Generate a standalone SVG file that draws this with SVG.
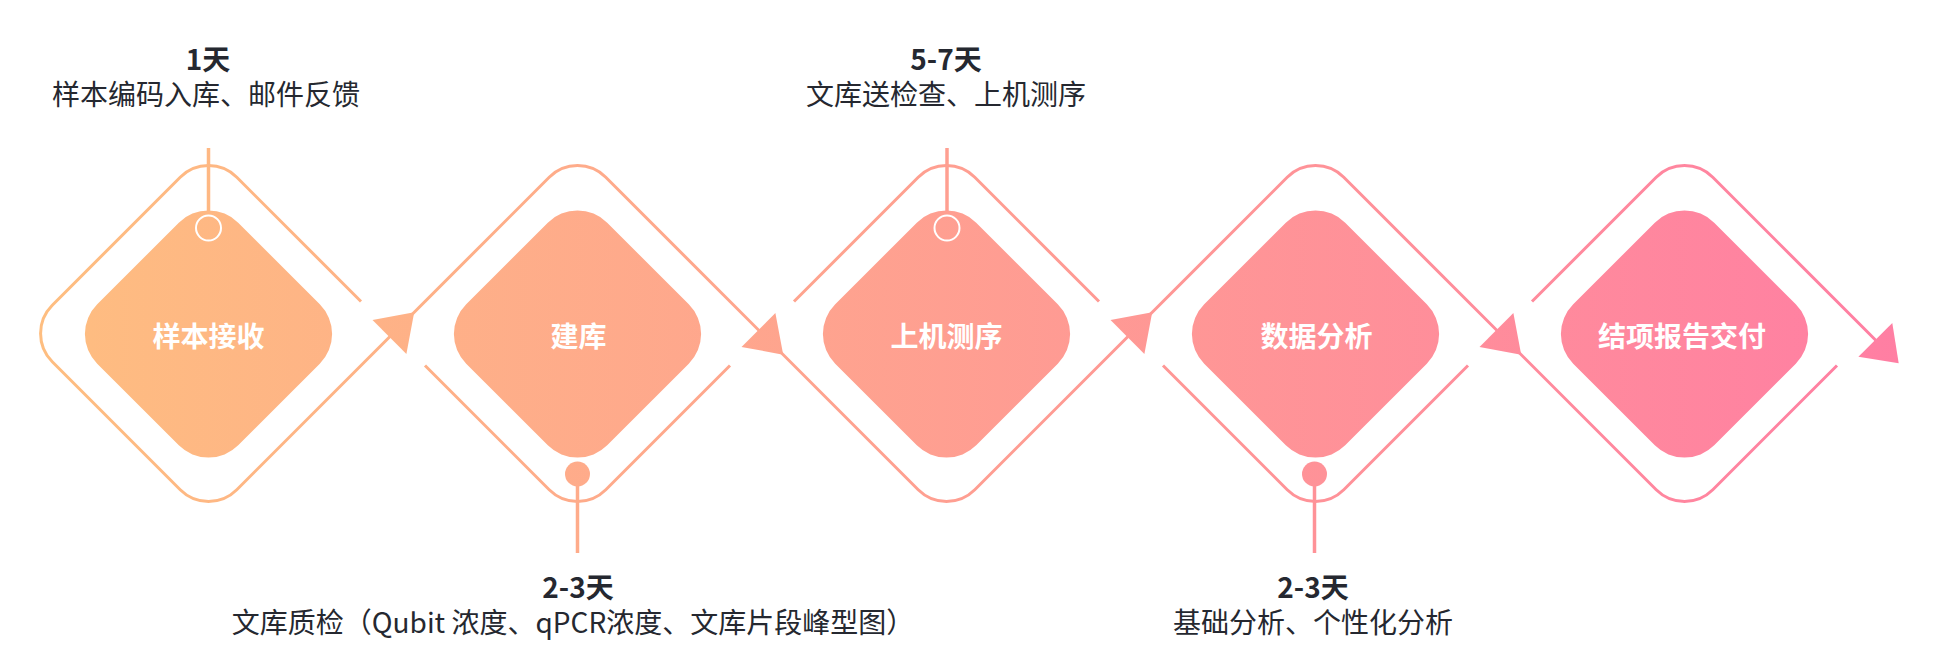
<svg xmlns="http://www.w3.org/2000/svg" width="1936" height="666" viewBox="0 0 1936 666">
<defs>
<linearGradient id="g" gradientUnits="userSpaceOnUse" x1="30" y1="0" x2="1910" y2="0">
<stop offset="0" stop-color="#FEBE80"/>
<stop offset="1" stop-color="#FF7EA3"/>
</linearGradient>
<style>
.outline{fill:none;stroke:url(#g);stroke-width:3;stroke-linejoin:round}
.arrow{fill:url(#g)}
.inner{fill:url(#g)}
.title{font-family:"Noto Sans CJK SC","Noto Sans",sans-serif;font-weight:700;font-size:28px;fill:#fff;text-anchor:middle}
.day{font-family:"Noto Sans CJK SC","Noto Sans",sans-serif;font-weight:700;font-size:28px;fill:#252830;text-anchor:middle}
.desc{font-family:"Noto Sans CJK SC","Noto Sans",sans-serif;font-weight:400;font-size:28px;fill:#252830;text-anchor:middle}
.stem{stroke:url(#g);stroke-width:3.5;fill:none}
.ring{fill:none;stroke:#fff;stroke-width:2}
.dot{fill:url(#g)}
</style>
</defs>
<rect width="1936" height="666" fill="#fff"/>
<g id="connectors">
<path class="outline" d="M361,301.5 L236.78,177.28 A40,40 0 0 0 180.22,177.28 L52.28,305.22 A40,40 0 0 0 52.28,361.78 L180.22,489.72 A40,40 0 0 0 236.78,489.72 L549.22,177.28 A40,40 0 0 1 605.78,177.28 L918.22,489.72 A40,40 0 0 0 974.78,489.72 L1287.22,177.28 A40,40 0 0 1 1343.78,177.28 L1656.22,489.72 A40,40 0 0 0 1712.78,489.72 L1837,365.5"/>
<path class="outline" d="M425,365.5 L549.22,489.72 A40,40 0 0 0 605.78,489.72 L730,365.5"/>
<path class="outline" d="M794,301.5 L918.22,177.28 A40,40 0 0 1 974.78,177.28 L1099,301.5"/>
<path class="outline" d="M1163,365.5 L1287.22,489.72 A40,40 0 0 0 1343.78,489.72 L1468,365.5"/>
<path class="outline" d="M1532,301.5 L1656.22,177.28 A40,40 0 0 1 1712.78,177.28 L1877,341.5"/>
<polygon class="arrow" points="414.2,312.3 372.5,320.1 406.4,354"/>
<polygon class="arrow" points="783.2,354.7 775.4,313 741.5,346.9"/>
<polygon class="arrow" points="1152.2,312.3 1110.5,320.1 1144.4,354"/>
<polygon class="arrow" points="1521.2,354.7 1513.4,313 1479.5,346.9"/>
<polygon class="arrow" points="1898.7,363.2 1892.3,322.9 1858.4,356.8"/>
</g>
<g id="node1">
<path class="inner" d="M178.8,222.7 A42,42 0 0 1 238.2,222.7 L319.8,304.3 A42,42 0 0 1 319.8,363.7 L238.2,445.3 A42,42 0 0 1 178.8,445.3 L97.2,363.7 A42,42 0 0 1 97.2,304.3 Z"/>
<text class="title" x="208.5" y="347">样本接收</text>
<line class="stem" x1="208.5" y1="148" x2="208.5" y2="215.5"/>
<circle class="ring" cx="208.5" cy="228" r="12.5"/>
<text class="day" x="208" y="70">1天</text>
<text class="desc" x="206" y="105">样本编码入库、邮件反馈</text>
</g>
<g id="node2">
<path class="inner" d="M547.8,222.7 A42,42 0 0 1 607.2,222.7 L688.8,304.3 A42,42 0 0 1 688.8,363.7 L607.2,445.3 A42,42 0 0 1 547.8,445.3 L466.2,363.7 A42,42 0 0 1 466.2,304.3 Z"/>
<text class="title" x="578.5" y="347">建库</text>
<circle class="dot" cx="577.5" cy="474" r="12.5"/>
<line class="stem" x1="577.5" y1="474" x2="577.5" y2="553"/>
<text class="day" x="578" y="598">2-3天</text>
<text class="desc" x="573" y="633">文库质检（Qubit 浓度、qPCR浓度、文库片段峰型图）</text>
</g>
<g id="node3">
<path class="inner" d="M916.8,222.7 A42,42 0 0 1 976.2,222.7 L1057.8,304.3 A42,42 0 0 1 1057.8,363.7 L976.2,445.3 A42,42 0 0 1 916.8,445.3 L835.2,363.7 A42,42 0 0 1 835.2,304.3 Z"/>
<text class="title" x="946.5" y="347">上机测序</text>
<line class="stem" x1="947" y1="148" x2="947" y2="215.5"/>
<circle class="ring" cx="947" cy="228" r="12.5"/>
<text class="day" x="946" y="70">5-7天</text>
<text class="desc" x="946" y="105">文库送检查、上机测序</text>
</g>
<g id="node4">
<path class="inner" d="M1285.8,222.7 A42,42 0 0 1 1345.2,222.7 L1426.8,304.3 A42,42 0 0 1 1426.8,363.7 L1345.2,445.3 A42,42 0 0 1 1285.8,445.3 L1204.2,363.7 A42,42 0 0 1 1204.2,304.3 Z"/>
<text class="title" x="1316.5" y="347">数据分析</text>
<circle class="dot" cx="1314.5" cy="474" r="12.5"/>
<line class="stem" x1="1314.5" y1="474" x2="1314.5" y2="553"/>
<text class="day" x="1313" y="598">2-3天</text>
<text class="desc" x="1313" y="633">基础分析、个性化分析</text>
</g>
<g id="node5">
<path class="inner" d="M1654.8,222.7 A42,42 0 0 1 1714.2,222.7 L1795.8,304.3 A42,42 0 0 1 1795.8,363.7 L1714.2,445.3 A42,42 0 0 1 1654.8,445.3 L1573.2,363.7 A42,42 0 0 1 1573.2,304.3 Z"/>
<text class="title" x="1682" y="347">结项报告交付</text>
</g>
</svg>
